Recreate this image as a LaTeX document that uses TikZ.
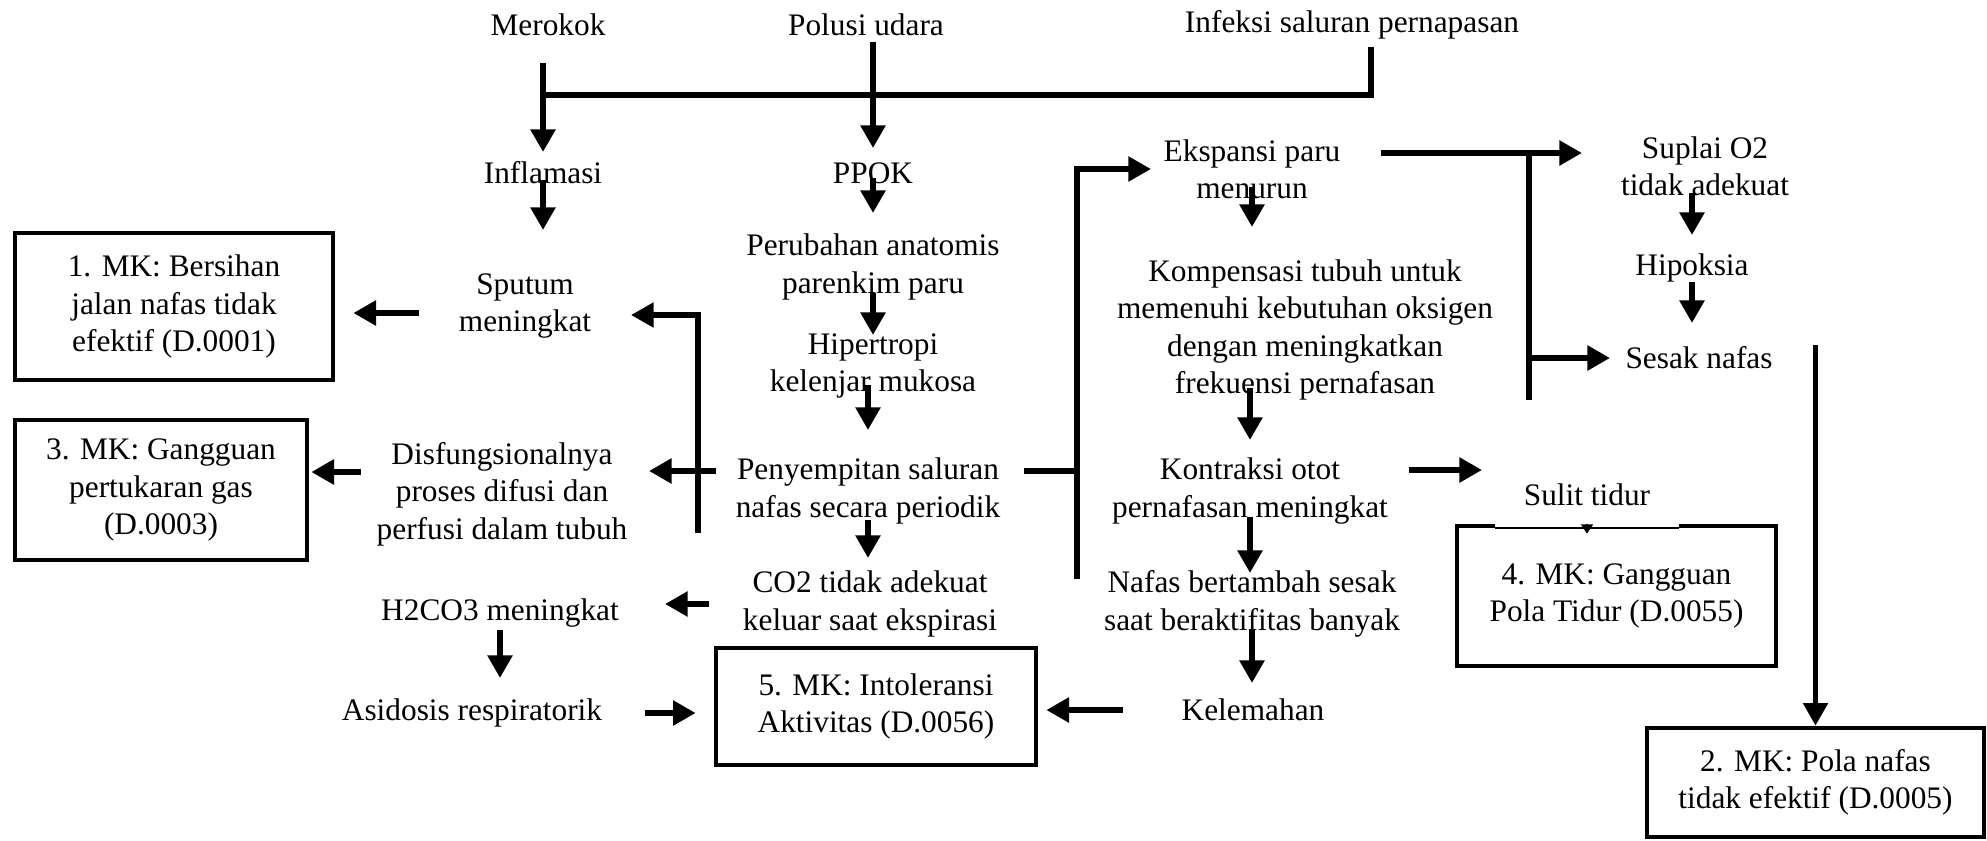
\documentclass[tikz,border=0pt]{standalone}
\usepackage{fontspec}
\setmainfont{Liberation Serif}
\usetikzlibrary{arrows.meta}

\tikzset{every picture/.style={line width=0.75pt}}
\tikzset{
	teks/.style={font=\fontsize{23.5}{28}\selectfont, align=center, inner sep=0pt},
	kotakmk/.style={teks, draw, line width=3.5pt},
	panah/.style={line width=4.5pt, -{Triangle[length=17pt,width=18pt]}},
	panahkecil/.style={line width=1pt, -{Triangle[length=7pt,width=9pt]}},
	garis/.style={line width=4pt},
	garisatas/.style={line width=5pt}}

\begin{document}
\begin{tikzpicture}[x=0.75pt,y=0.75pt,yscale=-1,xscale=1]
	\useasboundingbox (0,0) rectangle (1987,840);

	% Text Node
	\node[teks] (merokok) at (548,25) {Merokok};
	% Text Node
	\node[teks] (polusi) at (866,25) {Polusi udara};
	% Text Node
	\node[teks] (infeksi) at (1352,25) {Infeksi saluran pernapasan};
	% Text Node
	\node[teks] (inflamasi) at (543,173) {Inflamasi};
	% Text Node
	\node[teks] (ppok) at (873,173) {PPOK};
	% Text Node
	\node[teks] (sputum) at (525,306) {Sputum\\meningkat};
	% Text Node
	\node[teks] (perubahan) at (873,267) {Perubahan anatomis\\parenkim paru};
	% Text Node
	\node[teks] (hipertropi) at (873,366) {Hipertropi\\kelenjar mukosa};
	% Text Node
	\node[teks] (penyempitan) at (868,491) {Penyempitan saluran\\nafas secara periodik};
	% Text Node
	\node[teks] (disfungsi) at (502,494) {Disfungsionalnya\\proses difusi dan\\perfusi dalam tubuh};
	% Text Node
	\node[teks] (co2) at (870,604) {CO2 tidak adekuat\\keluar saat ekspirasi};
	% Text Node
	\node[teks] (h2co3) at (500,613) {H2CO3 meningkat};
	% Text Node
	\node[teks] (asidosis) at (472,713) {Asidosis respiratorik};
	% Text Node
	\node[teks] (ekspansi) at (1252,169) {Ekspansi paru\\menurun};
	% Text Node
	\node[teks] (kompensasi) at (1305,330) {Kompensasi tubuh untuk\\memenuhi kebutuhan oksigen\\dengan meningkatkan\\frekuensi pernafasan};
	% Text Node
	\node[teks] (kontraksi) at (1250,491) {Kontraksi otot\\pernafasan meningkat};
	% Text Node
	\node[teks] (bertambah) at (1252,604) {Nafas bertambah sesak\\saat beraktifitas banyak};
	% Text Node
	\node[teks] (kelemahan) at (1253,710) {Kelemahan};
	% Text Node
	\node[teks] (suplai) at (1705,166) {Suplai O2\\tidak adekuat};
	% Text Node
	\node[teks] (hipoksia) at (1692,268) {Hipoksia};
	% Text Node
	\node[teks] (sesak) at (1699,358) {Sesak nafas};
	% Text Node
	\node[teks] (sulit) at (1587,495) {Sulit tidur};

	%Shape: Rectangle
	\node[kotakmk, minimum width=238.5pt, minimum height=110.25pt] (mk1) at (174,306.5) {1. MK: Bersihan\\jalan nafas tidak\\efektif (D.0001)};
	%Shape: Rectangle
	\node[kotakmk, minimum width=252.75pt, minimum height=81.75pt] (mk2) at (1815.5,782.5) {2. MK: Pola nafas\\tidak efektif (D.0005)};
	%Shape: Rectangle
	\node[kotakmk, minimum width=219pt, minimum height=105pt] (mk3) at (161,490) {3. MK: Gangguan\\pertukaran gas\\(D.0003)};
	%Shape: Rectangle
	\node[kotakmk, minimum width=239.25pt, minimum height=105pt] (mk4) at (1616.5,596) {4. MK: Gangguan\\Pola Tidur (D.0055)};
	%Shape: Rectangle
	\node[kotakmk, minimum width=240pt, minimum height=87.75pt] (mk5) at (876,706.5) {5. MK: Intoleransi\\Aktivitas (D.0056)};

	\coordinate (simpang) at (543,95);
	\coordinate (baliksputum) at (698,533);
	\coordinate (cabang) at (1077,579);
	\coordinate (cabangatas) at (1529,153);
	\coordinate (cabangbawah) at (1529,400);

	%Straight Lines
	\draw[garisatas] (simpang) -| ([xshift=14.25pt,yshift=16.5pt]infeksi.center);
	%Straight Lines
	\draw[panah, shorten <=28.5pt, shorten >=15.75pt] (inflamasi |- merokok) -- (inflamasi.center);
	%Straight Lines
	\draw[panah, shorten <=12.75pt, shorten >=18.75pt] (ppok |- polusi) -- (ppok.center);
	%Straight Lines
	\draw[panah, shorten <=5.25pt, shorten >=57pt] (inflamasi.center) -- (inflamasi |- sputum);
	%Straight Lines
	\draw[panah, shorten <=3.75pt, shorten >=40.5pt] (ppok.center) -- (ppok |- perubahan);
	%Straight Lines
	\draw[panah, shorten <=19.5pt, shorten >=23.25pt] (perubahan.center) -- (perubahan |- hipertropi);
	%Straight Lines
	\draw[panah, shorten <=14.25pt, shorten >=45.75pt] (penyempitan |- hipertropi) -- (penyempitan.center);
	%Straight Lines
	\draw[panah, shorten <=21.75pt, shorten >=34.5pt] (penyempitan.center) -- (penyempitan |- co2);
	%Straight Lines
	\draw[panah, shorten <=79.5pt, shorten >=13.5pt] ([yshift=5.25pt]sputum.center) -- ([yshift=5.25pt]sputum.center -| mk1.east);
	%Straight Lines
	\draw[panah, shorten <=105.75pt, shorten >=1.5pt] ([yshift=-16.5pt]disfungsi.center) -- ([yshift=-16.5pt]disfungsi.center -| mk3.east);
	%Straight Lines
	\draw[panah, shorten <=114pt, shorten >=110.25pt] ([yshift=-15pt]penyempitan.center) -- ([yshift=-15pt]penyempitan.center -| disfungsi.center);
	%Straight Lines
	\draw[panah, line width=4pt, shorten >=79.5pt] (baliksputum) |- ([yshift=6.75pt]sputum.center);
	%Straight Lines
	\draw[garis, shorten <=117pt] ([yshift=-15pt]penyempitan.center) -- ([yshift=-15pt]penyempitan.center -| cabang);
	%Straight Lines
	\draw[panah, line width=4pt, shorten >=75.75pt] (cabang) |- (ekspansi.center);
	%Straight Lines
	\draw[panah, shorten <=96.75pt, shorten >=92.25pt] ([yshift=-12pt]ekspansi.center) -- ([yshift=-12pt]ekspansi.center -| suplai.center);
	%Straight Lines
	\draw[garis] (cabangatas) -- (cabangbawah);
	%Straight Lines
	\draw[panah, shorten >=66.75pt] (sesak -| cabangatas) -- (sesak.center);
	%Straight Lines
	\draw[panah, shorten <=20.25pt, shorten >=24.75pt] (hipoksia |- suplai) -- (hipoksia.center);
	%Straight Lines
	\draw[panah, shorten <=10.5pt, shorten >=26.25pt] (hipoksia.center) -- (hipoksia |- sesak);
	%Straight Lines
	\draw[panah, line width=4pt] ([yshift=-9.75pt]mk2.north |- sesak.center) -- (mk2.north);
	%Straight Lines
	\draw[panah, shorten <=13.5pt, shorten >=77.25pt] (ekspansi.center) -- (ekspansi |- kompensasi);
	%Straight Lines
	\draw[panah, shorten <=43.5pt, shorten >=38.25pt] (kontraksi |- kompensasi) -- (kontraksi.center);
	%Straight Lines
	\draw[panah, shorten <=119.25pt, shorten >=78.75pt] ([yshift=-15.75pt]kontraksi.center) -- ([yshift=-15.75pt]kontraksi.center -| sulit.center);
	%Straight Lines
	\draw[panah, shorten <=19.5pt, shorten >=23.25pt] (kontraksi.center) -- (kontraksi |- bertambah);
	%Straight Lines
	\draw[panah, shorten <=19.5pt, shorten >=20.25pt] (bertambah.center) -- (bertambah |- kelemahan);
	%Straight Lines
	\draw[panah, shorten <=97.5pt, shorten >=6pt] (kelemahan.center) -- (kelemahan -| mk5.east);
	%Straight Lines
	\draw[panah, shorten <=120.75pt, shorten >=123.75pt] (co2.center) -- (co2 -| h2co3);
	%Straight Lines
	\draw[panah, shorten <=12.75pt, shorten >=26.25pt] (h2co3.center) -- (h2co3 |- asidosis);
	%Straight Lines
	\draw[panah, shorten <=129.75pt, shorten >=13.5pt] (asidosis.center) -- (asidosis -| mk5.west);

	% gap on top of box 4
	\draw[white, line width=4.5pt] (1495,526) -- (1679,526);
	\draw[line width=1pt] (1495,528) -- (1679,528);
	\draw[panahkecil] (sulit.center |- mk4.north) -- ([yshift=7.5pt]sulit.center |- mk4.north);

\end{tikzpicture}
\end{document}
